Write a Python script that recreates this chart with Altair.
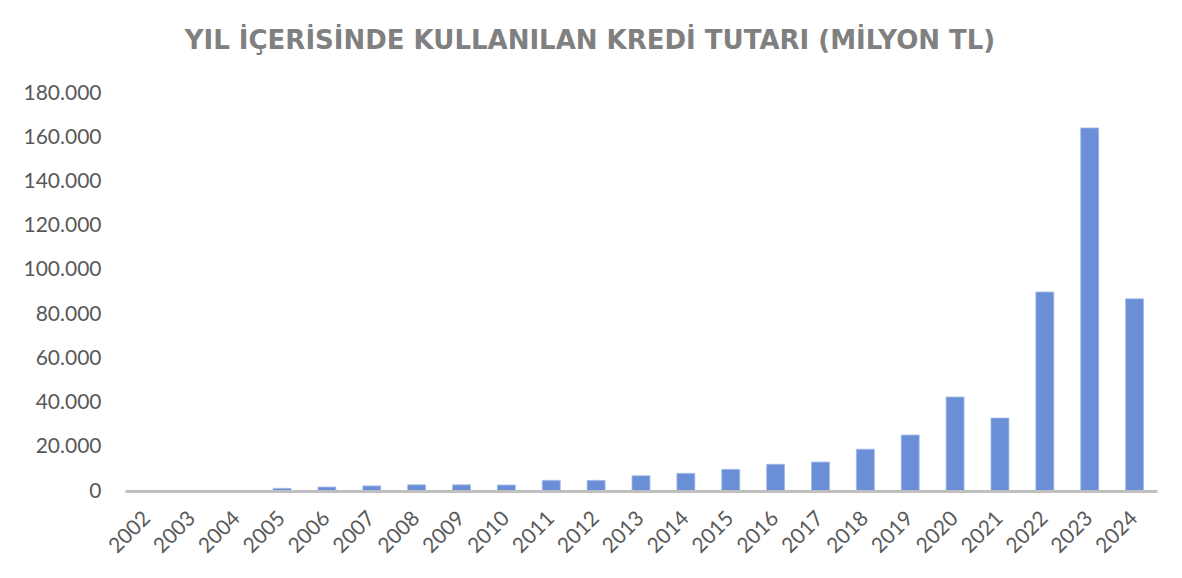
import altair as alt
import pandas as pd

years = ["2002", "2003", "2004", "2005", "2006", "2007", "2008", "2009", "2010",
         "2011", "2012", "2013", "2014", "2015", "2016", "2017", "2018", "2019",
         "2020", "2021", "2022", "2023", "2024"]
values = [30, 60, 150, 1200, 1800, 2300, 2800, 2800, 2700,
          4800, 4800, 6900, 8000, 9800, 12100, 13100, 18900, 25300,
          42500, 33000, 90000, 164200, 86900]
y_ticks = [0, 20000, 40000, 60000, 80000, 100000, 120000, 140000, 160000, 180000]

df = pd.DataFrame({"Yıl": years, "Tutar": values})

title = alt.Title(
    "YIL İÇERİSİNDE KULLANILAN KREDİ TUTARI (MİLYON TL)",
    font="DejaVu Sans", fontSize=26, fontWeight="bold", color="#808080",
    anchor="middle", frame="bounds", offset=28,
)

chart = alt.Chart(df, title=title).mark_bar(
    color="#6B8FD6", stroke="#A3BBE8", strokeWidth=0.8
).encode(
    x=alt.X("Yıl:N", sort=years,
            scale=alt.Scale(paddingInner=0.6, paddingOuter=0.3),
            axis=alt.Axis(title=None, labelAngle=-45, labelAlign="right",
                          labelBaseline="middle", labelPadding=24, ticks=False,
                          domainColor="#BFBFBF", domainWidth=3, grid=False,
                          labelFont="Lato", labelFontSize=21, labelColor="#595959",
                          zindex=1)),
    y=alt.Y("Tutar:Q", scale=alt.Scale(domain=[0, 180000], nice=False),
            axis=alt.Axis(title=None, values=y_ticks,
                          labelExpr="replace(format(datum.value, ','), ',', '.')",
                          domain=False, ticks=False, grid=False, labelPadding=24,
                          labelFont="Lato", labelFontSize=21, labelColor="#595959")),
).properties(
    width=1032, height=398,
    padding={"left": 14, "top": 20, "right": 10, "bottom": 5},
).configure_view(stroke=None)

chart.save("out.html", embed_options={"renderer": "svg", "actions": False})
